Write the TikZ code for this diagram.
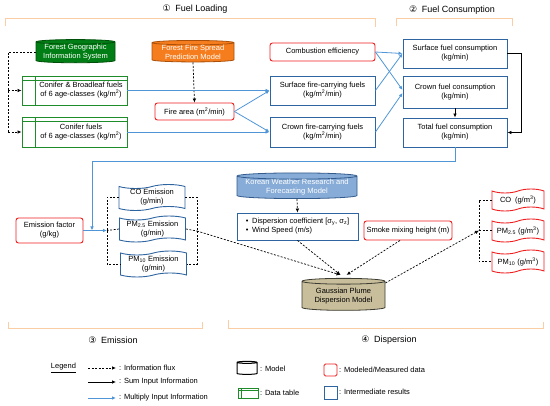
\documentclass[tikz,border=0pt]{standalone}
\usepackage{fontspec}
\setmainfont{Liberation Sans}
\newfontfamily\dejavu{DejaVu Sans}
\usetikzlibrary{shapes.geometric,shapes.symbols,arrows.meta}
\definecolor{dgreen}{RGB}{30,140,40}
\definecolor{fgfill}{RGB}{0,125,20}
\definecolor{fgdraw}{RGB}{0,80,10}
\definecolor{orfill}{RGB}{245,125,30}
\definecolor{ordraw}{RGB}{170,80,10}
\definecolor{rred}{RGB}{240,30,30}
\definecolor{mblue}{RGB}{46,100,160}
\definecolor{lblue}{RGB}{80,150,215}
\definecolor{wrffill}{RGB}{135,172,215}
\definecolor{wrfdraw}{RGB}{50,90,140}
\definecolor{tanfill}{RGB}{200,190,155}
\definecolor{tandraw}{RGB}{60,60,50}
\definecolor{brk}{RGB}{250,205,165}
\begin{document}
\begin{tikzpicture}[x=1pt,y=-1pt,
  fs/.style={font=\fontsize{7.5}{9}\selectfont, align=center, inner sep=1pt},
  ttl/.style={font=\fontsize{9}{10}\selectfont, inner sep=1pt},
  bbox/.style={draw=mblue, line width=0.9pt, fill=white, fs},
  rbox/.style={draw=rred, line width=0.9pt, rounded corners=2.5pt, fill=white, fs},
  dtab/.style={draw=dgreen, line width=0.9pt, fill=white, fs,
    path picture={\draw[dgreen, line width=0.8pt]
      ([yshift=-4pt]path picture bounding box.north west) -- ([yshift=-4pt]path picture bounding box.north east)
      ([xshift=13pt]path picture bounding box.north west) -- ([xshift=13pt]path picture bounding box.south west);}},
  dtabsmall/.style={draw=dgreen, line width=0.9pt, fill=white,
    path picture={\draw[dgreen, line width=0.6pt]
      ([yshift=-2pt]path picture bounding box.north west) -- ([yshift=-2pt]path picture bounding box.north east)
      ([xshift=3pt]path picture bounding box.north west) -- ([xshift=3pt]path picture bounding box.south west);}},
  cyl/.style={cylinder, shape border rotate=90, line width=0.8pt, fs, inner sep=0pt},
  btape/.style={tape, draw=mblue, line width=0.9pt, fill=white, fs, tape bend height=4pt, minimum width=66pt, minimum height=25pt},
  rtape/.style={tape, draw=rred, line width=0.9pt, fill=white, fs, tape bend height=4pt, minimum width=52pt, minimum height=22pt},
  dl/.style={dash pattern=on 2pt off 1.5pt, line width=0.7pt},
  dar/.style={dl, -{Latex[length=4pt,width=3.5pt]}},
  bar/.style={draw=lblue, line width=0.8pt, -{Latex[length=4pt,width=3.5pt]}},
  kar/.style={black, line width=0.7pt, -{Latex[length=4pt,width=3.5pt]}},
  brk/.style={draw=brk, line width=1pt}
]
\useasboundingbox (0,0) rectangle (550,406);

% titles and brackets
\node[ttl] (t1) at (195,9) {{\dejavu ①}\enspace Fuel Loading};
\node[ttl] (t2) at (452,10) {{\dejavu ②}\enspace Fuel Consumption};
\node[ttl] (t3) at (113,340) {{\dejavu ③}\enspace Emission};
\node[ttl] (t4) at (389,340) {{\dejavu ④}\enspace Dispersion};
\draw[brk] (5,26) -- (5,19) -- (375,19) -- (375,27);
\draw[brk] (396,26) -- (396,19) -- (512,19) -- (512,26);
\draw[brk] (8,322) -- (8,329) -- (202,329) -- (202,322);
\draw[brk] (228,320) -- (228,329) -- (543,329) -- (543,322);

% fuel loading
\node[cyl, aspect=0.07, fill=fgfill, draw=fgdraw, text=white, minimum width=79pt, minimum height=20pt] (fgis) at (75.5,52.5) {Forest Geographic\\Information System};
\node[cyl, aspect=0.07, fill=orfill, draw=ordraw, text=white, minimum width=82pt, minimum height=20pt] (ffsp) at (193,52.5) {Forest Fire Spread\\Prediction Model};
\node[dtab, minimum width=105pt, minimum height=29pt,
  label={[fs, xshift=6.5pt]center:Conifer \& Broadleaf fuels\\of 6 age-classes (kg/m\textsuperscript{2})}] (cb) at (74.5,90.5) {};
\node[dtab, minimum width=105pt, minimum height=30pt,
  label={[fs, xshift=6.5pt]center:Conifer fuels\\of 6 age-classes (kg/m\textsuperscript{2})}] (cf) at (74.5,132) {};
\node[rbox, minimum width=79pt, minimum height=17pt] (fa) at (194.5,111.5) {Fire area (m\textsuperscript{2}/min)};
\node[rbox, minimum width=105pt, minimum height=18pt] (ce) at (322.5,52) {Combustion efficiency};
\node[bbox, minimum width=105pt, minimum height=29pt] (sfc) at (322.5,90.5) {Surface fire-carrying fuels\\(kg/m\textsuperscript{2}/min)};
\node[bbox, minimum width=105pt, minimum height=30pt] (cfc) at (322.5,132) {Crown fire-carrying fuels\\(kg/m\textsuperscript{2}/min)};

% fuel consumption
\node[bbox, minimum width=104pt, minimum height=29pt] (sfcons) at (455,53.5) {Surface fuel consumption\\(kg/min)};
\node[bbox, minimum width=104pt, minimum height=32pt] (cfcons) at (455,92) {Crown fuel consumption\\(kg/min)};
\node[bbox, minimum width=104pt, minimum height=29pt] (tfc) at (455,132.5) {Total fuel consumption\\(kg/min)};

% emission
\node[rbox, minimum width=67pt, minimum height=25pt] (ef) at (49.5,230.5) {Emission factor\\(g/kg)};
\node[btape] (coe) at (152,197.5) {CO Emission\\(g/min)};
\node[btape] (pm25e) at (152.5,229) {PM\textsubscript{2.5} Emission\\(g/min)};
\node[btape] (pm10e) at (153.5,264) {PM\textsubscript{10} Emission\\(g/min)};

% dispersion
\node[cyl, aspect=0.06, fill=wrffill, draw=wrfdraw, text=white, minimum width=120pt, minimum height=22pt] (wrf) at (297,187.5) {Korean Weather Research and\\Forecasting Model};
\node[bbox, minimum width=121pt, minimum height=27pt, align=left] (disp) at (297.5,226.5) {\textbullet\enspace Dispersion coefficient [σ\textsubscript{y}, σ\textsubscript{z}]\\\textbullet\enspace Wind Speed (m/s)};
\node[rbox, minimum width=88pt, minimum height=19pt] (smh) at (408,230.5) {Smoke mixing height (m)};
\node[cyl, aspect=0.1, fill=tanfill, draw=tandraw, minimum width=83pt, minimum height=32pt] (gauss) at (343.5,296) {Gaussian Plume\\Dispersion Model};
\node[rtape] (co) at (518,200) {CO\enspace(g/m\textsuperscript{3})};
\node[rtape, minimum height=23pt] (pm25) at (518,230.5) {PM\textsubscript{2.5} (g/m\textsuperscript{3})};
\node[rtape, minimum height=23pt] (pm10) at (518,261.5) {PM\textsubscript{10} (g/m\textsuperscript{3})};

% coordinates
\coordinate (j1) at (8,90.5);
\coordinate (j2) at (8,132);
\coordinate (jt) at (92,230.5);
\coordinate (eb) at (107,230.5);
\coordinate (er) at (197,231);
\coordinate (dr) at (479,230.5);
\coordinate (rs) at (521,53.5);
\coordinate (tl) at (92,161);

% connectors: fuel loading
\draw[dl] (fgis.west) -| (j2);
\draw[dar] (j1) -- (cb.west);
\draw[dar] (j2) -- (cf.west);
\draw[dar] (ffsp.south) -- (fa.north);
\draw[bar] (cb.east) -- (sfc.west);
\draw[bar] (cf.east) -- (cfc.west);
\draw[bar] (fa.east) -- (sfc.west);
\draw[bar] (fa.east) -- (cfc.west);
\draw[bar] (ce.east) -- (sfcons.west);
\draw[bar] (ce.east) -- ([yshift=2pt]cfcons.west);
\draw[bar] (sfc.east) -- (sfcons.west);
\draw[bar] (cfc.east) -- ([yshift=-1pt]cfcons.west);
\draw[kar] (cfcons.south) -- (tfc.north);
\draw[kar] (sfcons.east) -- (rs) |- (tfc.east);

% to emission
\draw[bar] (tfc.south) |- (tl) -- (jt);
\draw[bar] (ef.east) -- (eb);
\draw[dl] (coe.west) -| (eb) |- (pm10e.west);
\draw[dl] (pm25e.west) -- (eb);
\draw[dl] (coe.east) -| (er) |- (pm10e.east);
\draw[dl] (pm25e.east) -- (er);
\draw[dar] (er) -- ([xshift=-3pt,yshift=3pt]gauss.north);

% dispersion
\draw[dar] (wrf.south) -- (disp.north);
\draw[dar] (disp.south) -- ([xshift=-3pt,yshift=3pt]gauss.north);
\draw[dar] ([xshift=-8pt]smh.south) -- ([xshift=3pt,yshift=3pt]gauss.north);
\draw[dar] ([yshift=13pt]gauss.east) -- (dr);
\draw[dl] (co.west) -| (dr) |- (pm10.west);
\draw[dl] (pm25.west) -- (dr);

% legend
\node[fs] (lg) at (63.5,368) {\underline{Legend}};
\coordinate (l1a) at (88,368); \coordinate (l1b) at (116,368);
\coordinate (l2a) at (88,382); \coordinate (l2b) at (116,382);
\coordinate (l3a) at (88,398); \coordinate (l3b) at (116,398);
\draw[dar] (l1a) -- (l1b);
\draw[kar] (l2a) -- (l2b);
\draw[bar] (l3a) -- (l3b);
\node[fs, anchor=west] (l1t) at (118,368) {: Information flux};
\node[fs, anchor=west] (l2t) at (118,382) {: Sum Input Information};
\node[fs, anchor=west] (l3t) at (118,398) {: Multiply Input Information};
\node[cylinder, shape border rotate=90, aspect=0.3, draw=black, fill=white, line width=1pt, minimum width=20pt, minimum height=13pt] (lcyl) at (247,369) {};
\node[fs, anchor=west] (lcylt) at (259,369) {: Model};
\node[dtabsmall, minimum width=20pt, minimum height=10pt] (ldt) at (248,393) {};
\node[fs, anchor=west] (ldtt) at (259,393) {: Data table};
\node[rbox, minimum width=13pt, minimum height=12pt, rounded corners=1.5pt] (lrb) at (330.5,370) {};
\node[fs, anchor=west] (lrbt) at (338,370) {: Modeled/Measured data};
\node[bbox, minimum width=13pt, minimum height=13pt] (lbb) at (330.5,392.5) {};
\node[fs, anchor=west] (lbbt) at (338,392) {: Intermediate results};
\end{tikzpicture}
\end{document}
